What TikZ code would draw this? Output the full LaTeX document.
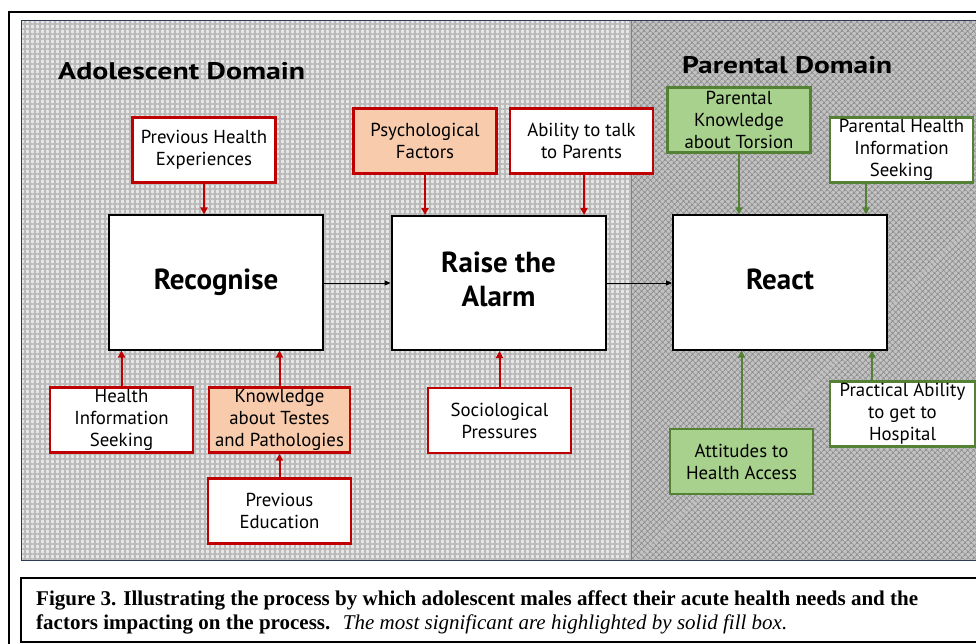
\documentclass[tikz,border=0pt]{standalone}
\usepackage{fontspec}
\setmainfont{PT Sans}
\newfontfamily\capfont{Liberation Serif}
\usetikzlibrary{arrows.meta,patterns.meta}
\definecolor{redline}{HTML}{C00000}
\definecolor{greenline}{HTML}{548235}
\definecolor{orangefill}{HTML}{F8CBAD}
\definecolor{greenfill}{HTML}{A9D18E}
\definecolor{adobg}{HTML}{E6E6E6}
\definecolor{adopat}{HTML}{BABABA}
\definecolor{parbg}{HTML}{C2C2C2}
\definecolor{parpat}{HTML}{8E8E8E}
\definecolor{panelline}{HTML}{2F3B55}
\definecolor{divline}{HTML}{6F8F6F}
\newcommand{\mainlines}[1]{\raisebox{6pt}{\begin{tabular}{@{}c@{}}#1\end{tabular}}}
\tikzset{
  boxtext/.style={font=\fontsize{18.8}{22}\selectfont, align=center, text=black, inner sep=0pt},
  factor/.style={boxtext, draw=redline, line width=2.4pt, fill=white, minimum width=143pt, minimum height=65pt},
  factorhi/.style={factor, fill=orangefill},
  pfactor/.style={boxtext, draw=greenline, line width=2.4pt, fill=white, minimum width=143pt, minimum height=65pt},
  pfactorhi/.style={pfactor, fill=greenfill},
  mainbox/.style={draw=black, line width=2pt, fill=white, minimum width=214pt, minimum height=134pt, align=center, inner sep=0pt, font=\fontsize{29}{34}\selectfont\bfseries},
  redarrow/.style={draw=redline, line width=2pt, -{Triangle[length=7pt,width=7pt]}},
  greenarrow/.style={draw=greenline, line width=2pt, -{Triangle[length=7pt,width=7pt]}},
  blackarrow/.style={draw=black, line width=1pt, -{Triangle[length=6pt,width=5pt]}},
  domaintitle/.style={font=\fontsize{24}{28}\selectfont\bfseries, inner sep=0pt, anchor=base west}
}
\begin{document}
\begin{tikzpicture}[x=1pt,y=-1pt]
\useasboundingbox (0,0) rectangle (976,644);
\clip (0,0) rectangle (976,644);
\fill[white] (0,0) rectangle (976,644);
% outer frame
\draw[black, line width=1.5pt] (9,12) rectangle (1000,700);
% adolescent background
\fill[adobg] (21,21) rectangle (631,560);
\fill[pattern={Hatch[angle=0,distance=5pt,line width=1.1pt]}, pattern color=adopat] (21,21) rectangle (631,560);
% parental background
\fill[parbg] (631,21) rectangle (1000,560);
\fill[pattern={Hatch[angle=45,distance=4pt,line width=1pt]}, pattern color=parpat] (631,21) rectangle (1000,560);
\draw[divline, line width=1pt] (631,21) -- (631,560);
\draw[panelline, line width=1pt] (21,21) rectangle (1000,560);
% caption box
\draw[black, line width=1.5pt] (21,578) rectangle (1000,642);

% titles
\node[domaintitle] (adotitle) at (58,79.5) {\resizebox{247pt}{\height}{Adolescent Domain}};
\node[domaintitle] (partitle) at (682,73.5) {\resizebox{210pt}{\height}{Parental Domain}};

% main boxes
\node[mainbox] (rec) at (216,282.5) {\mainlines{Recognise}};
\node[mainbox] (raise) at (498.5,283) {\mainlines{Raise the\\Alarm}};
\node[mainbox] (react) at (780,282.5) {\mainlines{React}};

% factors
\node[factor] (prevhealth) at (204,150) {Previous Health\\Experiences};
\node[factorhi] (psych) at (425,141) {Psychological\\Factors};
\node[factor] (ability) at (581.5,141) {Ability to talk\\to Parents};
\node[factor] (his) at (121.5,420) {Health\\Information\\Seeking};
\node[factorhi, minimum width=141pt] (knowtest) at (279.5,420) {Knowledge\\about Testes\\and Pathologies};
\node[factor] (preved) at (279.5,511) {Previous\\Education};
\node[factor] (socio) at (499.5,420.5) {Sociological\\Pressures};
\node[pfactorhi] (parknow) at (739,120) {Parental\\Knowledge\\about Torsion};
\node[pfactor] (parhis) at (901.5,150) {Parental Health\\Information\\Seeking};
\node[pfactor, minimum width=145pt] (practical) at (902.5,414) {Practical Ability\\to get to\\Hospital};
\node[pfactorhi] (attitudes) at (741.5,461.5) {Attitudes to\\Health Access};

\coordinate (phx) at (866,0);
\coordinate (prx) at (872,0);
\coordinate (abx) at (584,0);

% connectors
\draw[blackarrow] (rec.east |- 0,283) -- (raise.west |- 0,283);
\draw[blackarrow] (raise.east |- 0,283) -- (react.west |- 0,283);

\draw[redarrow] (prevhealth.south) -- (prevhealth.south |- rec.north);
\draw[redarrow] (his.north) -- (his.north |- rec.south);
\draw[redarrow] (knowtest.north) -- (knowtest.north |- rec.south);
\draw[redarrow] (preved.north) -- (knowtest.south);
\draw[redarrow] (psych.south) -- (psych.south |- raise.north);
\draw[redarrow] (ability.south -| abx) -- (raise.north -| abx);
\draw[redarrow] (socio.north) -- (socio.north |- raise.south);

\draw[greenarrow] (parknow.south) -- (parknow.south |- react.north);
\draw[greenarrow] (parhis.south -| phx) -- (react.north -| phx);
\draw[greenarrow] (attitudes.north) -- (attitudes.north |- react.south);
\draw[greenarrow] (practical.north -| prx) -- (react.south -| prx);

% caption
\node[anchor=base west, inner sep=0pt, font=\capfont\fontsize{21}{24}\selectfont] (cap1) at (36,605)
  {\resizebox{882pt}{\height}{\bfseries Figure 3. Illustrating the process by which adolescent males affect their acute health needs and the}};
\node[anchor=base west, inner sep=0pt, font=\capfont\fontsize{21}{24}\selectfont] (cap2) at (36,629)
  {\resizebox{751pt}{\height}{\textbf{factors impacting on the process.}\hspace{0.6em}\textit{The most significant are highlighted by solid fill box.}}};
\end{tikzpicture}
\end{document}
